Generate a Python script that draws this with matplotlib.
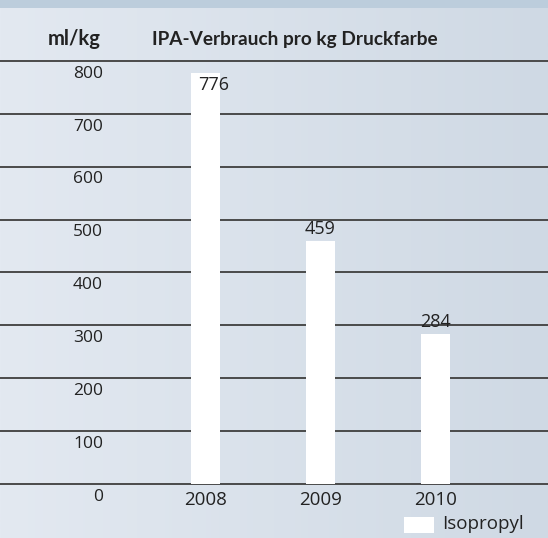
import matplotlib.pyplot as plt
import numpy as np
from matplotlib.colors import LinearSegmentedColormap

# data
years = ["2008", "2009", "2010"]
values = [776, 459, 284]
yticks = [0, 100, 200, 300, 400, 500, 600, 700, 800]
unit_label = "ml/kg"
title = "IPA-Verbrauch pro kg Druckfarbe"
legend_label = "Isopropyl"

W, H = 548, 538
fig = plt.figure(figsize=(W / 100, H / 100), dpi=100)

# background gradient + darker band on top
bg = fig.add_axes([0, 0, 1, 1], zorder=0)
grad = np.linspace(0, 1, 256)[None, :]
cmap = LinearSegmentedColormap.from_list("bg", ["#e3e9f1", "#cfd9e4"])
bg.imshow(grad, aspect="auto", cmap=cmap, extent=[0, 1, 0, 1])
bg.add_patch(plt.Rectangle((0, 1 - 8 / H), 1, 8 / H, color="#bccddc", lw=0))
bg.set_xlim(0, 1)
bg.set_ylim(0, 1)
bg.axis("off")

# main axes over whole figure, scaled so 0 sits at y=484px and 100 units = 52.9px
ax = fig.add_axes([0, 0, 1, 1], zorder=1)
ax.patch.set_alpha(0)
px_per_unit = 0.529
y0 = 484
ax.set_ylim((y0 - H) / px_per_unit, y0 / px_per_unit)
x_step = 115
x0 = 205.5
ax.set_xlim(-x0 / x_step, (W - x0) / x_step)
ax.axis("off")

txt = dict(family="Open Sans", color="#222222")

for t in yticks:
    ax.axhline(t, color="#4a4a4a", lw=1.4, zorder=1)
    ax.annotate(str(t), (0, t), xycoords=("figure pixels", "data"),
                xytext=(103, -3.5), textcoords=("figure pixels", "offset points"),
                ha="right", va="top", fontsize=12.5, **txt)

xs = np.arange(len(years))
ax.bar(xs, values, width=0.255, color="white", zorder=2)

for x, v, yr in zip(xs, values, years):
    if v > 750:
        # no room above the bar, label sits inside its top
        ax.annotate(str(v), (x + 0.07, v), xytext=(0, -2), textcoords="offset points",
                    ha="center", va="top", fontsize=13, zorder=3, **txt)
    else:
        ax.annotate(str(v), (x, v), xytext=(0, 2), textcoords="offset points",
                    ha="center", va="bottom", fontsize=13, zorder=3, **txt)
    ax.annotate(yr, (x, 0), xytext=(0, -5), textcoords="offset points",
                ha="center", va="top", fontsize=13.5, **txt)

# header
fig.text(48 / W, 1 - 39 / H, unit_label, fontsize=14.5, fontweight="bold", family="Lato",
         color="#222222", va="center", ha="left")
fig.text(152 / W, 1 - 39 / H, title, fontsize=13.7, fontweight="bold", family="Lato",
         color="#222222", va="center", ha="left")

# legend
bg.add_patch(plt.Rectangle((404 / W, 1 - 533 / H), 30 / W, 16 / H, color="white", lw=0))
fig.text(442 / W, 1 - 524 / H, legend_label, fontsize=13.5, **txt, va="center", ha="left")

fig.savefig("out.png", dpi=100)
